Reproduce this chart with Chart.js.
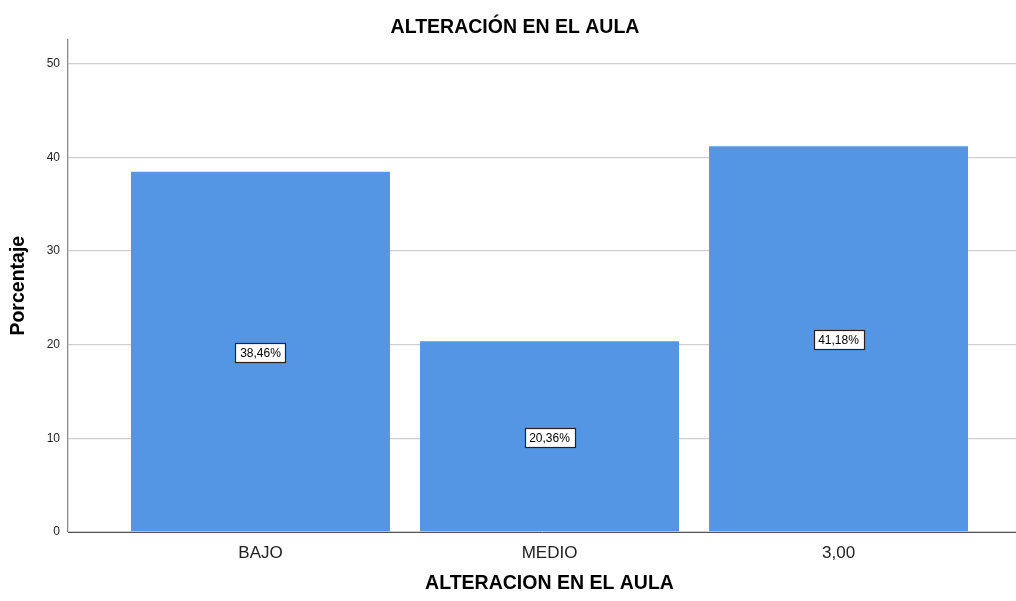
<!DOCTYPE html>
<html>
<head>
<meta charset="utf-8">
<script src="https://cdn.jsdelivr.net/npm/chart.js@4"></script>
<style>
  html, body { margin: 0; padding: 0; background: #fff; }
  #wrap { width: 1016px; height: 601px; }
</style>
</head>
<body>
<div id="wrap"><canvas id="chart" width="1016" height="601"></canvas></div>
<script>
const categories = ['BAJO', 'MEDIO', '3,00'];
const percentages = [38.46, 20.36, 41.18];
const percentLabels = ['38,46%', '20,36%', '41,18%'];
const yTickValues = [0, 10, 20, 30, 40, 50];
const xAxisTitle = 'ALTERACION EN EL AULA';

const FONT = 'Arial, "Liberation Sans", sans-serif';

// SPSS-like extras: shifted titles and white boxed value labels
const spssLook = {
  id: 'spssLook',
  afterLayout(chart) {
    chart.titleBlock.left += 7;
    chart.titleBlock.right += 7;
  },
  afterDatasetsDraw(chart) {
    const ctx = chart.ctx;
    const meta = chart.getDatasetMeta(0);
    ctx.save();
    ctx.font = '12px ' + FONT;
    ctx.textAlign = 'center';
    ctx.textBaseline = 'middle';
    meta.data.forEach((bar, i) => {
      const text = percentLabels[i];
      const cy = (bar.y + bar.base) / 2 + 1;
      const w = Math.round(ctx.measureText(text).width + 9);
      const h = 19;
      const x0 = Math.round(bar.x - w / 2) + 0.5;
      const y0 = Math.round(cy - h / 2) + 0.5;
      ctx.fillStyle = '#fff';
      ctx.fillRect(x0, y0, w, h);
      ctx.strokeStyle = '#222';
      ctx.lineWidth = 1.2;
      ctx.strokeRect(x0, y0, w, h);
      ctx.fillStyle = '#000';
      ctx.fillText(text, bar.x, cy + 1);
    });
    ctx.restore();
  },
  afterDraw(chart) {
    // x-axis title is centred on the bars, not on the whole axis
    const x = chart.scales.x;
    const ctx = chart.ctx;
    const mid = (x.getPixelForValue(0) + x.getPixelForValue(categories.length - 1)) / 2;
    ctx.save();
    ctx.font = 'bold 19.5px ' + FONT;
    ctx.fillStyle = '#000';
    ctx.textAlign = 'center';
    ctx.textBaseline = 'middle';
    ctx.fillText(xAxisTitle, mid, 584);
    ctx.restore();
  }
};

new Chart(document.getElementById('chart'), {
  type: 'bar',
  data: {
    datasets: [{
      data: percentages.map((v, i) => ({ x: i, y: v })),
      backgroundColor: '#5596e4',
      borderWidth: 0,
      categoryPercentage: 1,
      barPercentage: 0.896,
    }],
  },
  options: {
    responsive: false,
    animation: false,
    layout: { padding: { left: 0, right: 0, top: 0, bottom: 0 } },
    plugins: {
      legend: { display: false },
      tooltip: { enabled: false },
      title: {
        display: true,
        text: 'ALTERACIÓN EN EL AULA',
        color: '#000',
        font: { family: FONT, size: 19.5, weight: 'bold' },
        padding: { top: 16, bottom: 0 },
      },
    },
    scales: {
      x: {
        type: 'linear',
        min: -0.666,
        max: 2.614,
        offset: false,
        grid: { display: false, drawTicks: false },
        border: { display: true, color: '#555', width: 1 },
        afterBuildTicks(scale) {
          scale.ticks = categories.map((c, i) => ({ value: i }));
        },
        ticks: {
          color: '#222',
          font: { family: FONT, size: 17 },
          padding: 11,
          maxRotation: 0,
          autoSkip: false,
          callback: value => categories[value],
        },
        title: { display: false },
        afterFit(scale) { scale.height = 69; },
      },
      y: {
        min: 0,
        max: 52.6,
        grid: { color: '#cfcfcf', lineWidth: 1.3, drawTicks: false },
        border: { display: true, color: '#8a8a8a', width: 1.3 },
        afterBuildTicks(scale) {
          scale.ticks = yTickValues.map(v => ({ value: v }));
        },
        ticks: {
          color: '#222',
          font: { family: FONT, size: 12 },
          padding: 8,
        },
        title: {
          display: true,
          text: 'Porcentaje',
          color: '#000',
          font: { family: FONT, size: 19.5, weight: 'bold' },
          padding: { top: 7, bottom: 0 },
        },
        afterFit(scale) { scale.width = 68; },
      },
    },
  },
  plugins: [spssLook],
});
</script>
</body>
</html>
